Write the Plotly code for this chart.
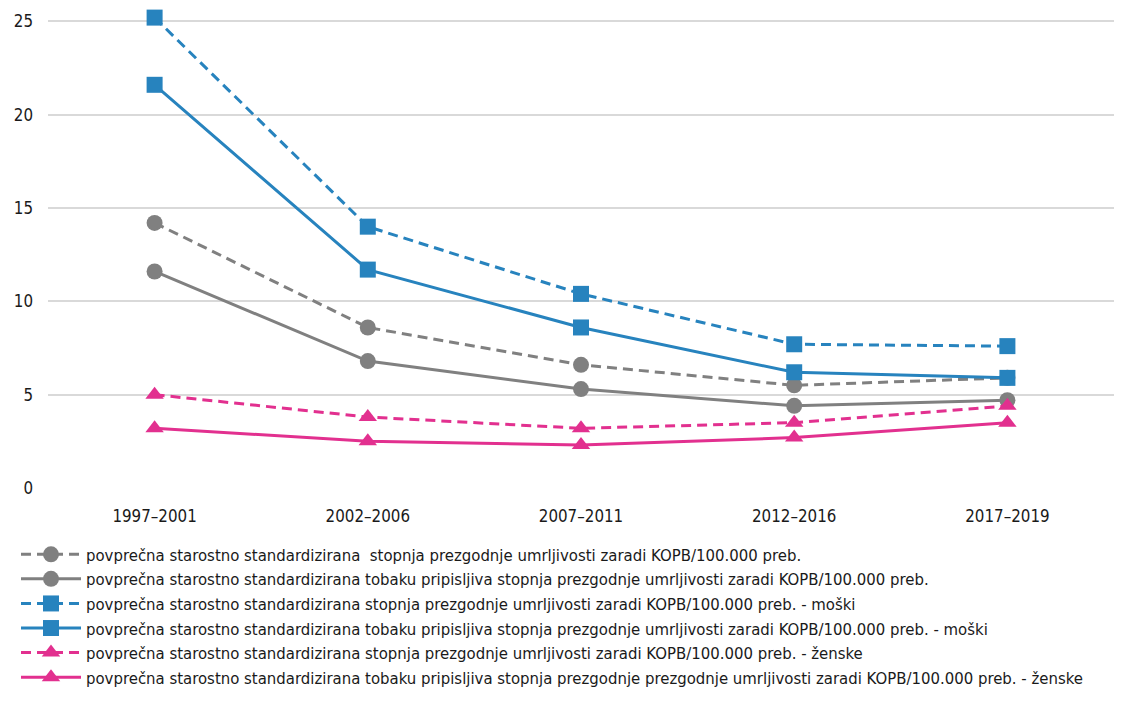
import plotly.graph_objects as go

# periods on the x axis
periods = ['1997–2001', '2002–2006', '2007–2011', '2012–2016', '2017–2019']

# rates per 100.000 inhabitants
skupaj = [14.2, 8.6, 6.6, 5.5, 5.9]
skupaj_tobak = [11.6, 6.8, 5.3, 4.4, 4.7]
moski = [25.2, 14.0, 10.4, 7.7, 7.6]
moski_tobak = [21.6, 11.7, 8.6, 6.2, 5.9]
zenske = [5.0, 3.8, 3.2, 3.5, 4.4]
zenske_tobak = [3.2, 2.5, 2.3, 2.7, 3.5]

names = [
    'povprečna starostno standardizirana  stopnja prezgodnje umrljivosti zaradi KOPB/100.000 preb.',
    'povprečna starostno standardizirana tobaku pripisljiva stopnja prezgodnje umrljivosti zaradi KOPB/100.000 preb.',
    'povprečna starostno standardizirana stopnja prezgodnje umrljivosti zaradi KOPB/100.000 preb. - moški',
    'povprečna starostno standardizirana tobaku pripisljiva stopnja prezgodnje umrljivosti zaradi KOPB/100.000 preb. - moški',
    'povprečna starostno standardizirana stopnja prezgodnje umrljivosti zaradi KOPB/100.000 preb. - ženske',
    'povprečna starostno standardizirana tobaku pripisljiva stopnja prezgodnje prezgodnje umrljivosti zaradi KOPB/100.000 preb. - ženske',
]

gray = '#808080'
blue = '#2783BE'
pink = '#E2308F'

dashed = '10px,6px'
series = [
    (skupaj, gray, dashed, 'circle'),
    (skupaj_tobak, gray, 'solid', 'circle'),
    (moski, blue, dashed, 'square'),
    (moski_tobak, blue, 'solid', 'square'),
    (zenske, pink, dashed, 'triangle-up'),
    (zenske_tobak, pink, 'solid', 'triangle-up'),
]

fig = go.Figure()
for (vals, col, dash, sym), name in zip(series, names):
    fig.add_trace(go.Scatter(
        x=periods, y=vals, name=name, mode='lines+markers',
        line=dict(color=col, width=3, dash=dash),
        marker=dict(color=col, symbol=sym, size=16),
        cliponaxis=False,
    ))

font = 'DejaVu Sans Condensed, Liberation Sans, Arial, sans-serif'

# page body has an 8px margin, so the figure is 8px smaller each way
fig.update_layout(
    width=1114, height=695,
    margin=dict(l=40, r=8, t=4, b=215, autoexpand=False),
    plot_bgcolor='white', paper_bgcolor='white',
    font=dict(family=font, size=16.8, color='#1a1a1a'),
    showlegend=True,
    legend=dict(
        orientation='v', x=(8 - 40) / 1066, xanchor='left',
        y=(480 - 529) / 476, yanchor='top',
        font=dict(family=font, size=16.6), itemwidth=60,
        tracegroupgap=0, bgcolor='rgba(0,0,0,0)',
    ),
)
fig.update_xaxes(showgrid=False, showline=False, ticks='', ticklabelstandoff=16,
                 range=[-0.5, 4.5])
fig.update_yaxes(range=[0, 25.5], tickvals=[0, 5, 10, 15, 20, 25], showgrid=True,
                 gridcolor='#d9d9d9', gridwidth=1.5, zeroline=False,
                 showline=False, ticks='', ticklabelstandoff=14)

fig.write_html('out.html')
